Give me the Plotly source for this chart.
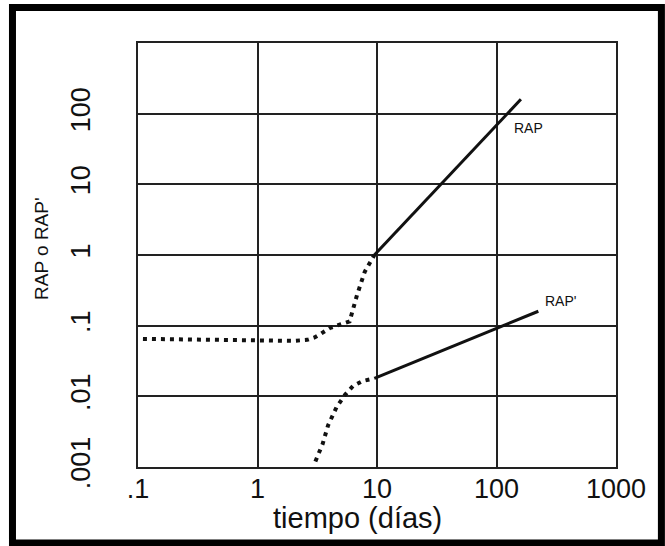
import numpy as np
import plotly.graph_objects as go

# Axis ticks (log-log)
x_tick_vals = [0.1, 1, 10, 100, 1000]
x_tick_text = [".1", "1", "10", "100", "1000"]
y_tick_vals = [0.001, 0.01, 0.1, 1, 10, 100]
y_tick_text = [".001", ".01", ".1", "1", "10", "100"]

# RAP: early (dotted) and late (solid) behaviour
rap_early_t = [0.11, 0.3, 1.0, 2.0, 2.6, 3.0, 3.4, 4.0, 5.0, 5.9, 6.8, 7.9, 9.5]
rap_early_v = [0.065, 0.063, 0.061, 0.061, 0.063, 0.068, 0.077, 0.092, 0.105, 0.115, 0.27, 0.58, 1.0]
rap_late_t = [9.5, 160]
rap_late_v = [1.0, 160]

# RAP' (derivative): early (dotted) and late (solid) behaviour
rapd_early_t = [3.05, 3.5, 3.9, 4.6, 5.4, 6.3, 7.6, 9.5]
rapd_early_v = [0.0012, 0.0021, 0.0039, 0.0071, 0.0105, 0.0140, 0.0165, 0.018]
rapd_late_t = [9.5, 224]
rapd_late_v = [0.018, 0.16]

INK = "#111111"
FONT = "Liberation Sans, Arial, sans-serif"
DOT = "4px,5px"

fig = go.Figure()
fig.add_trace(go.Scatter(x=rap_early_t, y=rap_early_v, mode="lines",
                         line=dict(color=INK, width=4, dash=DOT)))
fig.add_trace(go.Scatter(x=rap_late_t, y=rap_late_v, mode="lines",
                         line=dict(color=INK, width=3)))
fig.add_trace(go.Scatter(x=rapd_early_t, y=rapd_early_v, mode="lines",
                         line=dict(color=INK, width=4, dash=DOT)))
fig.add_trace(go.Scatter(x=rapd_late_t, y=rapd_late_v, mode="lines",
                         line=dict(color=INK, width=3)))

# Curve labels
fig.add_annotation(x=np.log10(135), y=np.log10(62), text="RAP", showarrow=False,
                   xanchor="left", yanchor="middle",
                   font=dict(family=FONT, size=14, color=INK))
fig.add_annotation(x=np.log10(245), y=np.log10(0.22), text="RAP'", showarrow=False,
                   xanchor="left", yanchor="middle",
                   font=dict(family=FONT, size=14, color=INK))

# Axis titles
fig.add_annotation(xref="paper", yref="paper", x=0.46, y=-0.121,
                   text="tiempo (días)", showarrow=False,
                   xanchor="center", yanchor="middle",
                   font=dict(family=FONT, size=29, color=INK))
fig.add_annotation(xref="paper", yref="paper", x=-0.203, y=0.5165,
                   text="RAP o RAP'", showarrow=False, textangle=-90,
                   xanchor="center", yanchor="middle",
                   font=dict(family=FONT, size=19, color=INK))

# Heavy black frame around the whole figure
fig.add_shape(type="rect", xref="paper", yref="paper",
              x0=-0.2626, x1=1.095, y0=-0.179, y1=1.0837,
              line=dict(color="black", width=7), fillcolor="rgba(0,0,0,0)",
              layer="above")

fig.update_layout(
    width=665, height=546,
    margin=dict(l=138, r=49, t=43, b=79),
    paper_bgcolor="white", plot_bgcolor="white",
    showlegend=False,
    font=dict(family=FONT, color=INK),
)
fig.update_xaxes(type="log", range=[-1, 3],
                 tickvals=x_tick_vals, ticktext=x_tick_text,
                 tickfont=dict(size=27, color=INK), ticks="",
                 ticklabelstandoff=-3,
                 showgrid=True, gridcolor="#222222", gridwidth=1.5,
                 showline=True, linecolor="#222222", linewidth=1.5, mirror=True,
                 zeroline=False)
fig.update_yaxes(type="log", range=[-3, 3],
                 tickvals=y_tick_vals + [1000], ticktext=y_tick_text + [""],
                 tickfont=dict(size=27, color=INK), ticks="", tickangle=-90,
                 ticklabelstandoff=35,
                 showgrid=True, gridcolor="#222222", gridwidth=1.5,
                 showline=True, linecolor="#222222", linewidth=1.5, mirror=True,
                 zeroline=False)

fig.write_html("out.html")
